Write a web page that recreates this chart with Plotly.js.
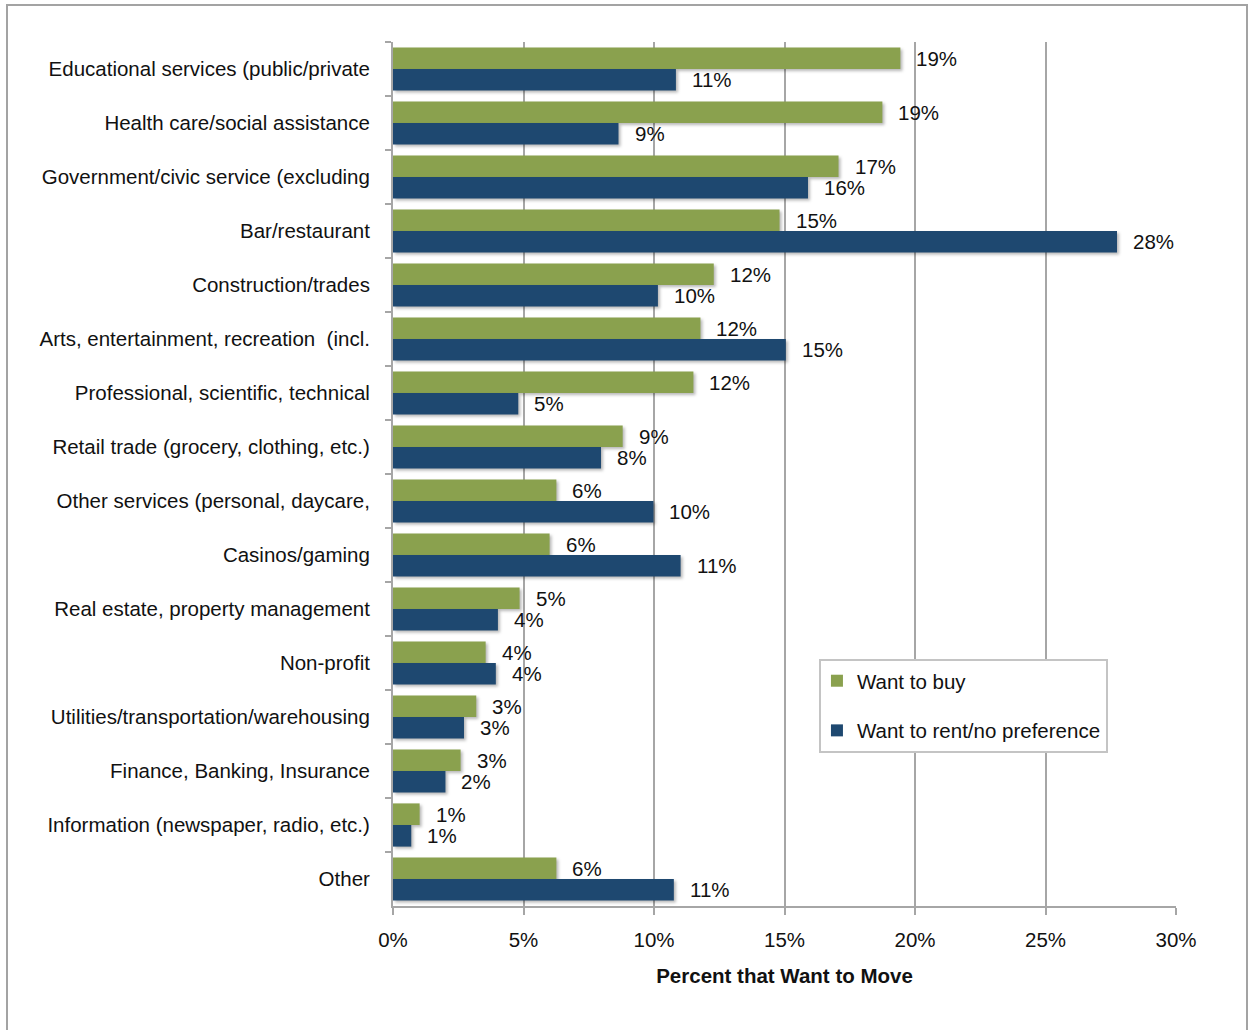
<!DOCTYPE html>
<html>
<head>
<meta charset="utf-8">
<script src="https://cdn.plot.ly/plotly-3.0.1.min.js"></script>
<style>
  html, body { margin: 0; padding: 0; background: #fff; }
  #wrap { position: relative; width: 1253px; height: 1030px; overflow: hidden; }
  #frame { position: absolute; left: 6px; top: 4px; width: 1242px; height: 1060px;
           border: 2px solid #a3a3a3; box-sizing: border-box; pointer-events: none; z-index: 5; }
  #chart { position: absolute; left: 0; top: 0; width: 1253px; height: 1030px; }
  #chart .trace.bars .point path { filter: drop-shadow(2px 2px 1.5px rgba(0,0,0,0.28)); }
</style>
</head>
<body>
<div id="wrap">
  <div id="chart"></div>
  <div id="frame"></div>
</div>
<script>
// ---- data (percent) ----
const categories = [
  "Educational services (public/private",
  "Health care/social assistance",
  "Government/civic service (excluding",
  "Bar/restaurant",
  "Construction/trades",
  "Arts, entertainment, recreation  (incl.",
  "Professional, scientific, technical",
  "Retail trade (grocery, clothing, etc.)",
  "Other services (personal, daycare,",
  "Casinos/gaming",
  "Real estate, property management",
  "Non-profit",
  "Utilities/transportation/warehousing",
  "Finance, Banking, Insurance",
  "Information (newspaper, radio, etc.)",
  "Other"
];
const wantToBuy = [19.44, 18.75, 17.07, 14.81, 12.29, 11.78, 11.51, 8.80, 6.26, 6.00, 4.85, 3.55, 3.19, 2.59, 1.02, 6.26];
const wantToRent = [10.84, 8.64, 15.90, 27.74, 10.15, 15.05, 4.80, 7.97, 9.98, 11.02, 4.02, 3.94, 2.72, 2.01, 0.70, 10.76];
const seriesNames = ["Want to buy", "Want to rent/no preference"];
const xTickValues = [0, 5, 10, 15, 20, 25, 30];
const xTickLabels = ["0%", "5%", "10%", "15%", "20%", "25%", "30%"];
const xAxisTitle = "Percent that Want to Move";

// ---- styles ----
const GREEN = "#8aa14e";
const BLUE = "#1e4870";
const GRID = "#a6a6a6";
const FONT = "'Liberation Sans', Arial, Helvetica, sans-serif";
const FS = 20.5;
const TXT = "#111111";

const traces = [
  { type: "bar", orientation: "h", name: seriesNames[0], y: categories, x: wantToBuy,
    marker: { color: GREEN }, legendgroup: "a", hoverinfo: "x+y" },
  { type: "bar", orientation: "h", name: seriesNames[1], y: categories, x: wantToRent,
    marker: { color: BLUE }, legendgroup: "b", hoverinfo: "x+y" }
];

const annotations = [];
[wantToBuy, wantToRent].forEach((vals, si) => {
  vals.forEach((v, i) => {
    annotations.push({
      x: v, y: categories[i], xref: "x", yref: "y",
      text: Math.round(v) + "%", showarrow: false,
      xanchor: "left", yanchor: "middle",
      xshift: 14, yshift: si === 0 ? 10.3 : -10.3,
      font: { family: FONT, size: FS, color: TXT }
    });
  });
});

const layout = {
  width: 1253, height: 1030,
  paper_bgcolor: "rgba(0,0,0,0)", plot_bgcolor: "#ffffff",
  margin: { l: 393, r: 77, t: 42, b: 124, pad: 0 },
  font: { family: FONT, size: FS, color: TXT },
  barmode: "group", bargap: 0.2, bargroupgap: 0,
  showlegend: true,
  legend: {
    x: 0.544, y: 0.286, xanchor: "left", yanchor: "top",
    bgcolor: "#ffffff", bordercolor: "#c4c4c4", borderwidth: 2,
    font: { family: FONT, size: FS, color: TXT },
    traceorder: "grouped", tracegroupgap: 20, indentation: -4
  },
  xaxis: {
    range: [0, 30], tickvals: xTickValues, ticktext: xTickLabels,
    showgrid: true, gridcolor: GRID, gridwidth: 2,
    showline: true, linecolor: GRID, linewidth: 2,
    ticks: "outside", ticklen: 7, tickwidth: 2, tickcolor: GRID,
    tickfont: { family: FONT, size: FS, color: TXT },
    ticklabelstandoff: 7,
    zeroline: false, fixedrange: true,
    title: { text: "<b>" + xAxisTitle + "</b>", font: { family: FONT, size: FS, color: TXT }, standoff: 19 }
  },
  yaxis: {
    type: "category", categoryorder: "array", categoryarray: categories,
    autorange: "reversed",
    tickson: "boundaries", ticks: "outside", ticklen: 6, tickwidth: 2, tickcolor: GRID,
    showline: true, linecolor: GRID, linewidth: 2,
    showgrid: false, zeroline: false, fixedrange: true,
    tickfont: { family: FONT, size: FS, color: TXT },
    ticklabelstandoff: 17
  },
  annotations: annotations
};

Plotly.newPlot("chart", traces, layout, { displayModeBar: false, staticPlot: true });
</script>
</body>
</html>
